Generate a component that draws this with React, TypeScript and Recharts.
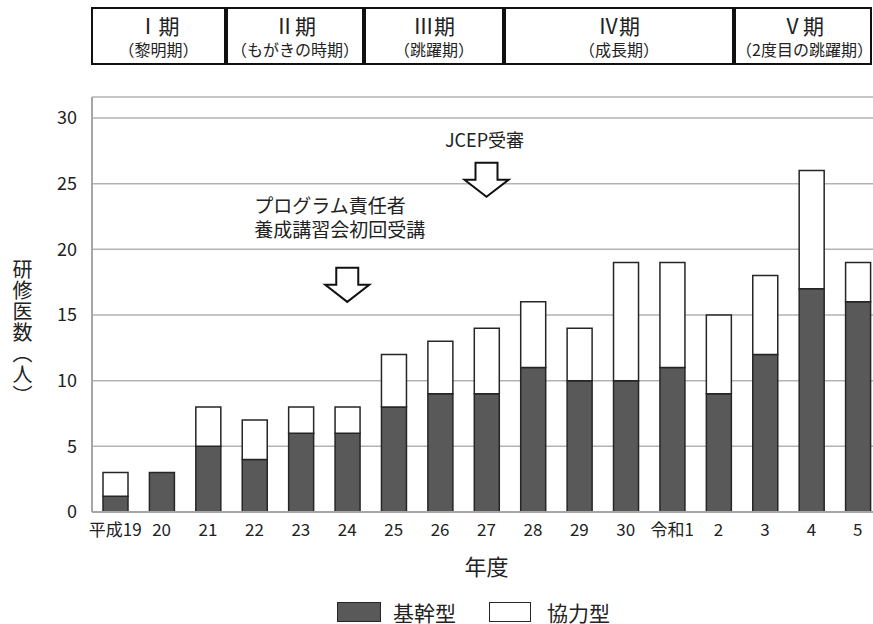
import { BarChart, Bar, XAxis, YAxis, CartesianGrid, ReferenceDot, Legend } from "recharts";

const years = ['平成19', '20', '21', '22', '23', '24', '25', '26', '27', '28', '29', '30', '令和1', '2', '3', '4', '5'];
const kikan = [1.2, 3, 5, 4, 6, 6, 8, 9, 9, 11, 10, 10, 11, 9, 12, 17, 16];
const kyoryoku = [1.8, 0, 3, 3, 2, 2, 4, 4, 5, 5, 4, 9, 8, 6, 6, 9, 3];
const yTicks = [0, 5, 10, 15, 20, 25, 30];

const periodNames = ['Ⅰ期', 'Ⅱ期', 'Ⅲ期', 'Ⅳ期', 'Ⅴ期'];
const periodSubs = ['（黎明期）', '（もがきの時期）', '（跳躍期）', '（成長期）', '（2度目の跳躍期）'];

const DARK = '#595959';
const EDGE = '#262626';
const FONT = '"Noto Sans CJK JP", "Noto Sans", sans-serif';

// box edges (px) for the period header row
const periodEdges = [91, 226, 364, 504, 734, 872];

const chartData = years.map((year, i) => ({
  year,
  kikan: kikan[i],
  kyoryoku: kyoryoku[i]
}));

const DownArrow = (props: any) => {
  const { cx, cy } = props;
  const pts = [
    [cx, cy],
    [cx + 22, cy - 17],
    [cx + 11, cy - 17],
    [cx + 11, cy - 34],
    [cx - 11, cy - 34],
    [cx - 11, cy - 17],
    [cx - 22, cy - 17]
  ].map(p => p.join(',')).join(' ');
  return <polygon points={pts} fill="#fff" stroke="#111" strokeWidth={2} strokeLinejoin="miter" />;
};

const ProgramNote = (props: any) => {
  const { cx, cy } = props;
  return (
    <text x={cx - 93} y={cy} fontSize={19} fill="#222" fontFamily={FONT}>
      <tspan x={cx - 93} dy={0}>プログラム責任者</tspan>
      <tspan x={cx - 93} dy={24}>養成講習会初回受講</tspan>
    </text>
  );
};

const JcepNote = (props: any) => {
  const { cx, cy } = props;
  return (
    <text x={cx - 2} y={cy} fontSize={18} fill="#222" textAnchor="middle" dominantBaseline="central" fontFamily={FONT}>
      JCEP受審
    </text>
  );
};

const LegendContent = () => (
  <div style={{ display: 'flex', alignItems: 'center', fontFamily: FONT, fontSize: 21, lineHeight: '22px', height: 22, color: '#222' }}>
    <span style={{ width: 42, height: 18, background: DARK, border: `1.5px solid ${EDGE}`, display: 'inline-block' }} />
    <span style={{ marginLeft: 12 }}>基幹型</span>
    <span style={{ marginLeft: 33, width: 40, height: 18, background: '#fff', border: `1.5px solid ${EDGE}`, display: 'inline-block' }} />
    <span style={{ marginLeft: 16 }}>協力型</span>
  </div>
);

export default function App() {
  return (
    <div style={{ position: 'absolute', left: 0, top: 0, width: 873, height: 624, overflow: 'hidden', background: '#fff', fontFamily: FONT }}>
      {/* period header */}
      {periodNames.map((name, i) => (
        <div
          key={name}
          style={{
            position: 'absolute',
            left: periodEdges[i],
            top: 7,
            width: periodEdges[i + 1] - periodEdges[i],
            height: 58,
            boxSizing: 'border-box',
            border: '2px solid #111',
            textAlign: 'center',
            color: '#222'
          }}
        >
          <div style={{ fontSize: 21, lineHeight: '26px', height: 26, marginTop: 3 }}>{name}</div>
          <div style={{ fontSize: 16, lineHeight: '22px', height: 22, whiteSpace: 'nowrap' }}>{periodSubs[i]}</div>
        </div>
      ))}

      <div style={{ position: 'absolute', left: 12, top: 259, writingMode: 'vertical-rl', fontSize: 20, letterSpacing: 1, color: '#222', lineHeight: 1 }}>
        研修医数（人）
      </div>

      <div style={{ position: 'absolute', left: 0, top: 0 }}>
        <BarChart width={890} height={624} data={chartData} margin={{ top: 97, right: 9, left: 0, bottom: 82 }}>
          <CartesianGrid vertical={false} stroke="#b3b3b3" strokeWidth={1.5} />
          <XAxis
            dataKey="year"
            interval={0}
            tickLine={false}
            axisLine={{ stroke: '#a6a6a6', strokeWidth: 2 }}
            tick={{ fontSize: 17, fill: '#222' }}
            tickMargin={6}
            height={30}
            label={{ value: '年度', position: 'bottom', offset: 17, style: { fontSize: 22, fill: '#222' } }}
          />
          <YAxis
            width={92}
            domain={[0, 31.6]}
            ticks={yTicks}
            tickLine={false}
            axisLine={{ stroke: '#a6a6a6', strokeWidth: 2 }}
            tick={{ fontSize: 18, fill: '#222' }}
            tickMargin={9}
          />
          <Legend
            layout="horizontal"
            verticalAlign="middle"
            align="center"
            content={<LegendContent />}
            wrapperStyle={{ top: 601, left: 337, width: 300, height: 22 }}
          />
          <Bar dataKey="kikan" name="基幹型" stackId="a" fill={DARK} stroke={EDGE} strokeWidth={1.5} barSize={25} isAnimationActive={false} />
          <Bar dataKey="kyoryoku" name="協力型" stackId="a" fill="#fff" stroke={EDGE} strokeWidth={1.5} barSize={25} isAnimationActive={false} />

          <ReferenceDot x="24" y={16} r={0} ifOverflow="visible" shape={DownArrow} />
          <ReferenceDot x="24" y={22.8} r={0} ifOverflow="visible" shape={ProgramNote} />
          <ReferenceDot x="27" y={24} r={0} ifOverflow="visible" shape={DownArrow} />
          <ReferenceDot x="27" y={28.4} r={0} ifOverflow="visible" shape={JcepNote} />
        </BarChart>
      </div>
    </div>
  );
}
